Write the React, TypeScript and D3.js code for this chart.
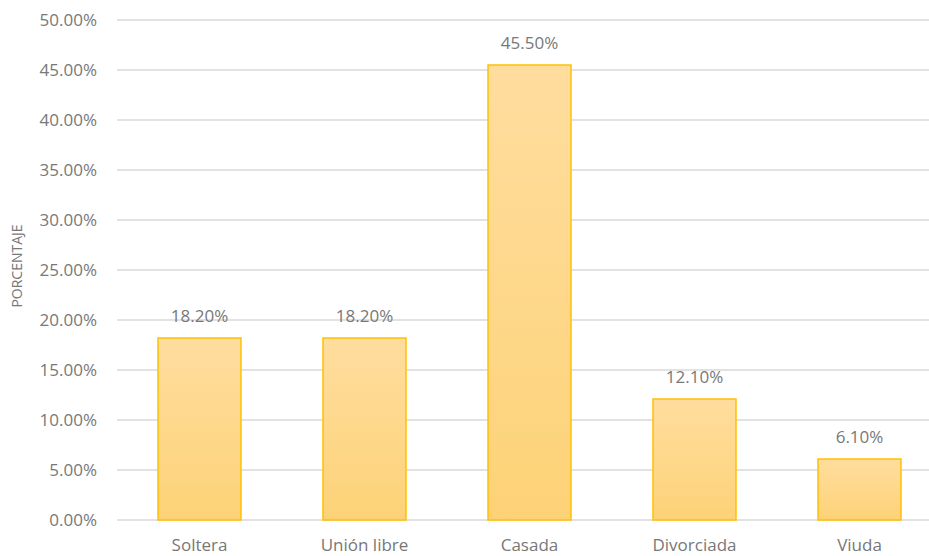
import React from "react";
import * as d3 from "d3";

const categories = ["Soltera", "Unión libre", "Casada", "Divorciada", "Viuda"];
const values = [18.2, 18.2, 45.5, 12.1, 6.1];
const yTicks = [0, 5, 10, 15, 20, 25, 30, 35, 40, 45, 50];
const yTitle = "PORCENTAJE";

const W = 929;
const H = 556;
const FONT = "'Open Sans', sans-serif";
const TEXT = "#787878";

export default function App() {
  const x = d3.scaleBand<string>().domain(categories).range([117, 942]).padding(0);
  const y = d3.scaleLinear().domain([0, 50]).range([520, 20]);
  const barW = x.bandwidth() * 0.503;
  return (
    <svg width={W} height={H} style={{ position: "absolute", left: 0, top: 0, background: "#fff" }}>
      <defs>
        <linearGradient id="barGrad" x1="0" y1="0" x2="0" y2="1">
          <stop offset="0%" stopColor="#FFDD9E" />
          <stop offset="100%" stopColor="#FDD277" />
        </linearGradient>
      </defs>
      {yTicks.map((t) => (
        <g key={t}>
          <line x1={117} x2={W} y1={y(t)} y2={y(t)} stroke="#D9D9D9" strokeWidth={1.3} />
          <text x={97} y={y(t)} dy="0.35em" textAnchor="end" fontFamily={FONT} fontSize={17} fill={TEXT}>
            {t.toFixed(2) + "%"}
          </text>
        </g>
      ))}
      {categories.map((c, i) => {
        const cx = (x(c) as number) + x.bandwidth() / 2;
        const v = values[i];
        return (
          <g key={c}>
            <rect
              x={cx - barW / 2}
              y={y(v)}
              width={barW}
              height={y(0) - y(v)}
              fill="url(#barGrad)"
              stroke="#FFC000"
              strokeWidth={1.5}
            />
            <text x={cx} y={y(v) - 16} textAnchor="middle" fontFamily={FONT} fontSize={17} fill={TEXT}>
              {v.toFixed(2) + "%"}
            </text>
            <text x={cx} y={551} textAnchor="middle" fontFamily={FONT} fontSize={17} fill={TEXT}>
              {c}
            </text>
          </g>
        );
      })}
      <text
        transform={`translate(22,266) rotate(-90)`}
        textAnchor="middle"
        fontFamily={FONT}
        fontSize={14}
        fill={TEXT}
      >
        {yTitle}
      </text>
    </svg>
  );
}
